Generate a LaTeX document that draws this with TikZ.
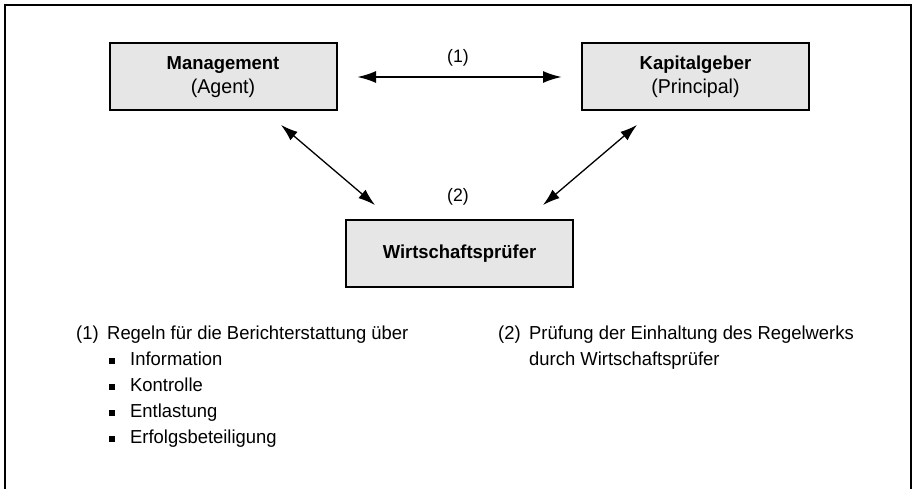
\documentclass[tikz,border=0pt]{standalone}
\usepackage{fontspec}
\setmainfont[FakeStretch=0.98]{Liberation Sans}
\usetikzlibrary{arrows.meta}
\definecolor{boxgray}{HTML}{E6E6E6}
\tikzset{
  party/.style={draw=black, line width=2pt, fill=boxgray, minimum width=227pt,
    minimum height=67pt, inner sep=0pt, align=center, font=\fontsize{18.8}{24}\selectfont},
  link/.style={line width=1.3pt, {Latex[length=17pt,width=11pt]}-{Latex[length=17pt,width=11pt]}},
  mainlink/.style={line width=2.2pt, {Latex[length=19pt,width=12pt]}-{Latex[length=19pt,width=12pt]}},
  lbl/.style={font=\fontsize{18}{20}\selectfont, inner sep=0pt},
  txt/.style={font=\fontsize{18.8}{20}\selectfont, inner sep=0pt, anchor=base west},
  bul/.style={fill=black, minimum size=6pt, inner sep=0pt}
}
\begin{document}
\begin{tikzpicture}[x=1pt,y=-1pt]
\useasboundingbox (0,0) rectangle (913,489);
% open frame
\draw[line width=2pt] (5,489) -- (5,5) -- (911,5) -- (911,489);

% parties
\node[party] (mgmt) at (223,77) {\textbf{Management}\\{\fontsize{20}{24}\selectfont (Agent)}};
\node[party] (kap) at (695.5,77) {\textbf{Kapitalgeber}\\{\fontsize{20}{24}\selectfont (Principal)}};
\node[party] (wp) at (459.5,253.5) {\textbf{Wirtschaftsprüfer}};

% relations
\coordinate (a1) at (357,77);
\coordinate (a2) at (562,77);
\draw[mainlink] (a1) -- (a2);
\node[lbl] (l1) at (458,58) {(1)};

\coordinate (b1) at (281,125);
\coordinate (b2) at (375,205);
\draw[link] (b1) -- (b2);
\coordinate (c1) at (637,125);
\coordinate (c2) at (543,205);
\draw[link] (c1) -- (c2);
\node[lbl] (l2) at (458,197) {(2)};

% legend (1)
\node[txt] (n1) at (76,339) {(1)};
\node[txt] (t1) at (107,339) {Regeln für die Berichterstattung über};
\foreach \y/\w [count=\i] in {365/Information,391/Kontrolle,417/Entlastung,443/Erfolgsbeteiligung}{
  \node[bul] (b\i) at (112,\y-4.5) {};
  \node[txt] (w\i) at (130,\y) {\w};
}

% legend (2)
\node[txt] (n2) at (498,339) {(2)};
\node[txt] (t2) at (529,339) {Prüfung der Einhaltung des Regelwerks};
\node[txt] (t3) at (529,365) {durch Wirtschaftsprüfer};
\end{tikzpicture}
\end{document}
